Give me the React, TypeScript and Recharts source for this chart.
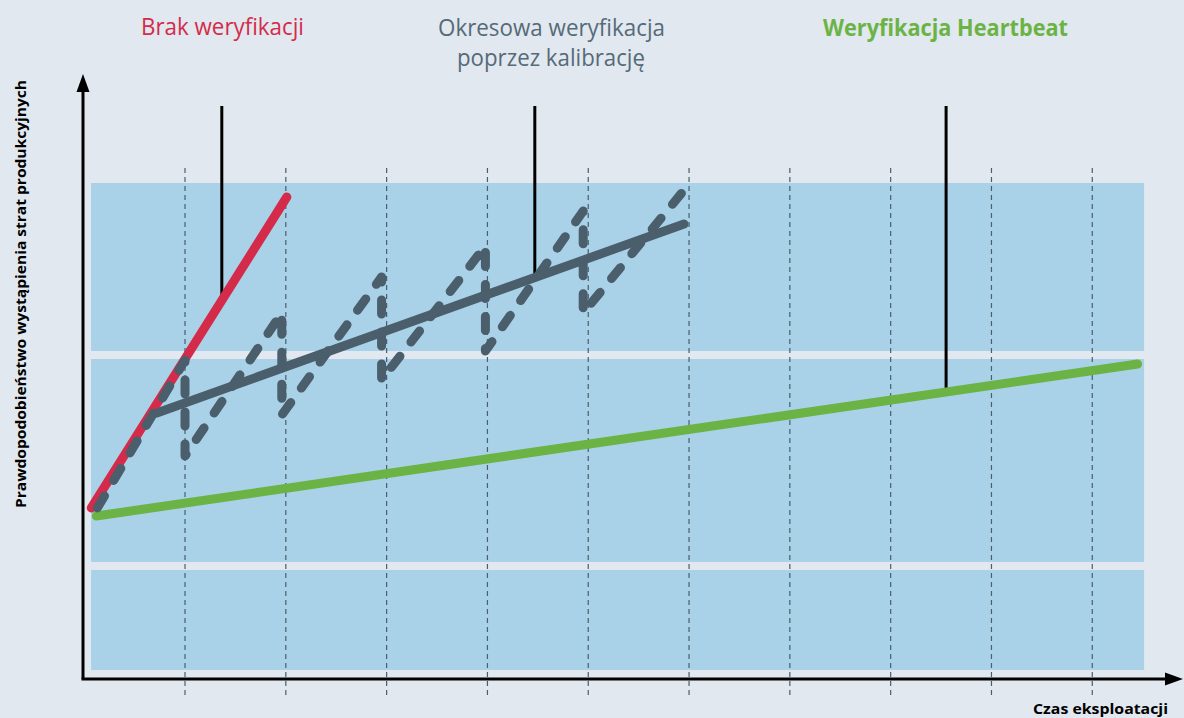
import {
  ComposedChart,
  Line,
  XAxis,
  YAxis,
  ReferenceArea,
  ReferenceLine,
  ReferenceDot,
} from 'recharts';

const W = 1184;
const H = 718;

// time axis: one unit per inspection interval, gridlines at every interval
const timeTicks = [1, 2, 3, 4, 5, 6, 7, 8, 9, 10];
const timeDomain: [number, number] = [-0.012, 10.91];
const riskDomain: [number, number] = [0, 6.06];

// risk zones (low / medium / high)
const zoneFrom = [0.09, 1.17, 3.28];
const zoneTo = [1.09, 3.2, 4.96];
const zoneStart = 0.068;
const zoneEnd = 10.514;

// "Brak weryfikacji"
const noCheckTime = [0.07, 2.01];
const noCheckRisk = [1.71, 4.82];

// "Okresowa weryfikacja poprzez kalibrację" – sawtooth
const calibTime = [0.13, 1.0, 1.0, 1.96, 1.96, 2.95, 2.95, 3.98, 3.98, 4.95, 4.95, 5.96];
const calibRisk = [1.71, 3.19, 2.23, 3.66, 2.64, 4.02, 2.99, 4.33, 3.28, 4.68, 3.66, 4.9];

// trend of the periodic calibration
const calibTrendTime = [0.72, 5.95];
const calibTrendRisk = [2.66, 4.55];

// "Weryfikacja Heartbeat"
const heartbeatTime = [0.12, 10.45];
const heartbeatRisk = [1.63, 3.15];

// pointer lines from the titles down to each series
const pointerTime = [1.365, 4.47, 8.55];
const pointerTop = 5.73;
const pointerBottom = [3.84, 4.04, 2.91];

const toPoints = (ts: number[], vs: number[]) => ts.map((t, i) => ({ t, v: vs[i] }));

const COLORS = {
  bg: '#e1e8ef',
  zone: '#a9d2e8',
  red: '#d52b4a',
  green: '#6cb345',
  slate: '#4a5e6c',
  titleSlate: '#566a78',
};

const ArrowUp = (props: any) => {
  const { cx, cy } = props;
  return <polygon points={`${cx},${cy} ${cx - 6.5},${cy + 18} ${cx + 6.5},${cy + 18}`} fill="#000" />;
};

const ArrowRight = (props: any) => {
  const { cx, cy } = props;
  return <polygon points={`${cx},${cy} ${cx - 18},${cy - 6.5} ${cx - 18},${cy + 6.5}`} fill="#000" />;
};

export default function App() {
  const font = "'Open Sans', 'Noto Sans', sans-serif";
  return (
    <div style={{ position: 'absolute', left: 0, top: 0, width: W, height: H, background: COLORS.bg, overflow: 'hidden' }}>
      <ComposedChart width={W} height={H} margin={{ top: 73, right: 0, bottom: 39, left: 83 }}>
        <XAxis dataKey="t" type="number" domain={timeDomain} allowDataOverflow hide />
        <YAxis type="number" domain={riskDomain} allowDataOverflow hide />

        {zoneFrom.map((y1, i) => (
          <ReferenceArea
            key={`zone-${i}`}
            x1={zoneStart}
            x2={zoneEnd}
            y1={y1}
            y2={zoneTo[i]}
            fill={COLORS.zone}
            fillOpacity={1}
            stroke="none"
            ifOverflow="visible"
          />
        ))}

        {timeTicks.map((t) => (
          <ReferenceLine
            key={`grid-${t}`}
            segment={[{ x: t, y: -0.16 }, { x: t, y: 5.13 }]}
            stroke={COLORS.slate}
            strokeWidth={1.2}
            strokeDasharray="5 4"
            ifOverflow="visible"
          />
        ))}

        {/* axes */}
        <ReferenceLine
          segment={[{ x: timeDomain[0], y: 0 }, { x: timeDomain[0], y: 5.88 }]}
          stroke="#000"
          strokeWidth={3}
          ifOverflow="visible"
        />
        <ReferenceLine
          segment={[{ x: timeDomain[0] - 0.015, y: 0 }, { x: 10.73, y: 0 }]}
          stroke="#000"
          strokeWidth={3}
          ifOverflow="visible"
        />
        <ReferenceDot x={timeDomain[0]} y={6.05} r={1} shape={ArrowUp} ifOverflow="visible" />
        <ReferenceDot x={10.9} y={0} r={1} shape={ArrowRight} ifOverflow="visible" />

        {pointerTime.map((t, i) => (
          <ReferenceLine
            key={`ptr-${i}`}
            segment={[{ x: t, y: pointerTop }, { x: t, y: pointerBottom[i] }]}
            stroke="#000"
            strokeWidth={3}
            ifOverflow="visible"
          />
        ))}

        <Line
          data={toPoints(noCheckTime, noCheckRisk)}
          dataKey="v"
          type="linear"
          stroke={COLORS.red}
          strokeWidth={9}
          strokeLinecap="round"
          dot={false}
          activeDot={false}
          isAnimationActive={false}
        />
        <Line
          data={toPoints(heartbeatTime, heartbeatRisk)}
          dataKey="v"
          type="linear"
          stroke={COLORS.green}
          strokeWidth={9}
          strokeLinecap="round"
          dot={false}
          activeDot={false}
          isAnimationActive={false}
        />
        <Line
          data={toPoints(calibTime, calibRisk)}
          dataKey="v"
          type="linear"
          stroke={COLORS.slate}
          strokeWidth={9}
          strokeDasharray="14 18"
          strokeLinecap="round"
          strokeLinejoin="round"
          dot={false}
          activeDot={false}
          isAnimationActive={false}
        />
        <Line
          data={toPoints(calibTrendTime, calibTrendRisk)}
          dataKey="v"
          type="linear"
          stroke={COLORS.slate}
          strokeWidth={9}
          strokeLinecap="round"
          dot={false}
          activeDot={false}
          isAnimationActive={false}
        />
      </ComposedChart>

      <svg width={W} height={H} style={{ position: 'absolute', left: 0, top: 0, pointerEvents: 'none' }}>
        <g fontFamily={font}>
          <text x={141} y={35} fontSize={23} fill={COLORS.red} textLength={163} lengthAdjust="spacingAndGlyphs">
            Brak weryfikacji
          </text>
          <text x={438} y={36} fontSize={23} fill={COLORS.titleSlate} textLength={227} lengthAdjust="spacingAndGlyphs">
            Okresowa weryfikacja
          </text>
          <text x={457} y={66} fontSize={23} fill={COLORS.titleSlate} textLength={188} lengthAdjust="spacingAndGlyphs">
            poprzez kalibrację
          </text>
          <text x={823} y={36} fontSize={23} fontWeight={700} fill={COLORS.green} textLength={245} lengthAdjust="spacingAndGlyphs">
            Weryfikacja Heartbeat
          </text>
          <text
            x={0}
            y={0}
            fontSize={15}
            fontWeight={700}
            fill="#000"
            textLength={428}
            lengthAdjust="spacingAndGlyphs"
            transform="translate(26, 508) rotate(-90)"
          >
            Prawdopodobieństwo wystąpienia strat produkcyjnych
          </text>
          <text x={1033} y={714} fontSize={15} fontWeight={700} fill="#000" textLength={135} lengthAdjust="spacingAndGlyphs">
            Czas eksploatacji
          </text>
        </g>
      </svg>
    </div>
  );
}
